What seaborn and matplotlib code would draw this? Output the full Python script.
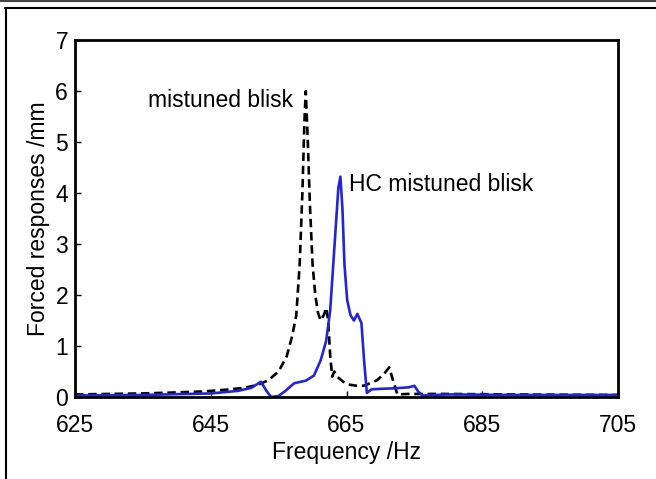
import matplotlib
matplotlib.use("Agg")
import matplotlib.pyplot as plt
from matplotlib.lines import Line2D
import seaborn as sns
import pandas as pd

# mistuned blisk (black dashed)
freq_mistuned = [625, 630, 635, 640, 644, 647, 650, 652, 653.5, 655, 656.2, 657, 657.6,
                 658.1, 658.5, 658.8, 659.0, 659.3, 659.6, 660.0, 660.4, 660.8, 661.2,
                 661.7, 662.0, 662.3, 662.6, 662.9, 663.2, 663.6, 664.5, 665.5, 666.5,
                 667.5, 668.5, 669.5, 670.5, 671.3, 671.8, 672.5, 674, 680, 690, 705]
resp_mistuned = [0.05, 0.06, 0.07, 0.09, 0.11, 0.14, 0.18, 0.24, 0.33, 0.5, 0.8, 1.2, 1.6,
                 2.6, 4.0, 5.4, 6.0, 5.0, 3.8, 2.6, 2.0, 1.65, 1.5,
                 1.62, 1.75, 1.5, 0.8, 0.4, 0.5, 0.4, 0.3, 0.24, 0.22,
                 0.22, 0.27, 0.33, 0.45, 0.58, 0.35, 0.05, 0.06, 0.06, 0.05, 0.04]

# HC mistuned blisk (blue solid)
freq_hc = [625, 635, 645, 649, 651, 652.4, 653.2, 653.9, 655, 656, 657.3, 659, 660.2,
           661.2, 662.0, 662.6, 663.0, 663.4, 663.8, 664.1, 664.4, 664.7, 665.1, 665.6,
           666.1, 666.6, 667.2, 667.6, 668.0, 668.7, 670, 672, 674.2, 675.0, 675.6,
           676.2, 680, 690, 705]
resp_hc = [0.03, 0.04, 0.07, 0.12, 0.18, 0.3, 0.12, 0.0, 0.02, 0.12, 0.27, 0.32, 0.42,
           0.72, 1.1, 1.7, 2.5, 3.3, 4.1, 4.32, 3.7, 2.6, 1.9, 1.6,
           1.5, 1.63, 1.45, 0.7, 0.08, 0.15, 0.16, 0.17, 0.19, 0.22, 0.1,
           0.03, 0.05, 0.04, 0.04]

x_ticks = [625, 645, 665, 685, 705]
y_ticks = [0, 1, 2, 3, 4, 5, 6, 7]

sns.set_style("ticks")
plt.rcParams['font.family'] = ['Liberation Sans', 'DejaVu Sans']
plt.rcParams['text.color'] = 'black'
plt.rcParams['axes.labelcolor'] = 'black'

fig = plt.figure(figsize=(6.56, 4.79), dpi=100)
ax = fig.add_axes([75 / 656, 1 - 397 / 479, (618 - 75) / 656, (397 - 40) / 479])

df_m = pd.DataFrame({"f": freq_mistuned, "r": resp_mistuned})
df_h = pd.DataFrame({"f": freq_hc, "r": resp_hc})
sns.lineplot(data=df_m, x="f", y="r", ax=ax, color="black", linewidth=1.9,
             linestyle=(0, (3.2, 1.8)), estimator=None)
sns.lineplot(data=df_h, x="f", y="r", ax=ax, color="#2323d8", linewidth=1.9,
             estimator=None)

ax.set_xlim(625, 705)
ax.set_ylim(0, 7)
ax.set_xticks(x_ticks)
ax.set_yticks(y_ticks)
ax.tick_params(direction="in", length=4, width=1, labelsize=16.5, colors="black")
ax.tick_params(axis="x", pad=12)
ax.tick_params(axis="y", pad=5)
ax.set_xlabel("Frequency /Hz", fontsize=16.5, labelpad=3)
ax.set_ylabel("Forced responses /mm", fontsize=16.5, labelpad=4)
for s in ax.spines.values():
    s.set_linewidth(2)
    s.set_color("black")

ax.text(635.8, 5.82, "mistuned blisk", fontsize=16.5, va="center", ha="left")
ax.text(665.3, 4.16, "HC mistuned blisk", fontsize=16.5, va="center", ha="left")

# figure frame
fig.add_artist(Line2D([0, 1], [1 - 1 / 479, 1 - 1 / 479], color="#444444", linewidth=1.5))
fig.add_artist(Line2D([5 / 656, 1], [1 - 8 / 479, 1 - 8 / 479], color="black", linewidth=1.5))
fig.add_artist(Line2D([6 / 656, 6 / 656], [0, 1 - 8 / 479], color="black", linewidth=1.5))

fig.savefig("out.png", dpi=100)
